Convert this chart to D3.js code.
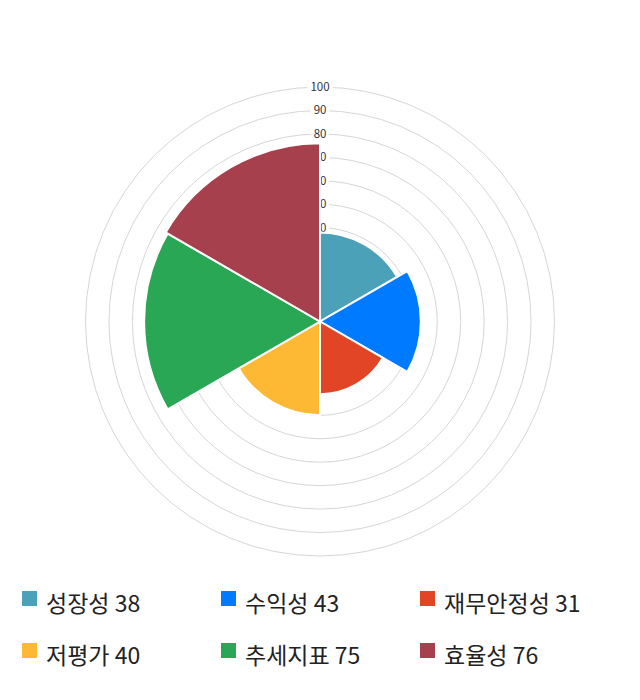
<!DOCTYPE html>
<html>
<head>
<meta charset="utf-8">
<script src="https://cdn.jsdelivr.net/npm/d3@7"></script>
<style>
  body { margin: 0; background: #fff; }
  text { font-family: "Noto Sans CJK KR", "Noto Sans", sans-serif; }
</style>
</head>
<body>
<svg id="chart"></svg>
<script>
const categories = ["성장성", "수익성", "재무안정성", "저평가", "추세지표", "효율성"];
const values = [38, 43, 31, 40, 75, 76];
const colors = ["#4ba1b8", "#007bff", "#e14526", "#fdb933", "#29a755", "#a6404d"];
const ticks = [10, 20, 30, 40, 50, 60, 70, 80, 90, 100];

const width = 640, height = 700;
const cx = 320, cy = 321.5, maxR = 234.5;

const svg = d3.select("#chart").attr("width", width).attr("height", height);

// radial scale: value -> radius
const rScale = d3.scaleLinear().domain([0, 100]).range([0, maxR]);
const angle = d3.scaleBand().domain(categories).range([0, 2 * Math.PI]);

const g = svg.append("g").attr("transform", `translate(${cx}, ${cy})`);

// grid rings
g.selectAll(".ring")
  .data(ticks)
  .join("circle")
  .attr("r", d => rScale(d))
  .attr("fill", "none")
  .attr("stroke", "#d6d6d6")
  .attr("stroke-width", 1);

// tick labels with white backdrop
const tl = g.selectAll(".tick")
  .data(ticks)
  .join("g")
  .attr("transform", d => `translate(0, ${-rScale(d)})`);
tl.append("rect")
  .attr("x", d => -String(d).length * 3.6 - 2)
  .attr("y", -6)
  .attr("width", d => String(d).length * 7.2 + 4)
  .attr("height", 12)
  .attr("fill", "#fff");
tl.append("text")
  .attr("text-anchor", "middle")
  .attr("dy", "0.35em")
  .attr("font-size", 11.5)
  .attr("fill", "#333")
  .text(d => d);

// slices
const arc = d3.arc()
  .innerRadius(0)
  .outerRadius(d => rScale(d.value))
  .startAngle(d => angle(d.name))
  .endAngle(d => angle(d.name) + angle.bandwidth());

const sliceData = categories.map((c, i) => ({ name: c, value: values[i], color: colors[i] }));

g.selectAll(".slice")
  .data(sliceData)
  .join("path")
  .attr("d", arc)
  .attr("fill", d => d.color)
  .attr("stroke", "#fff")
  .attr("stroke-width", 2);

// legend
const legend = svg.append("g");
const item = legend.selectAll(".item")
  .data(sliceData)
  .join("g")
  .attr("transform", (d, i) => `translate(${22 + (i % 3) * 199}, ${591 + Math.floor(i / 3) * 52})`);
item.append("rect")
  .attr("width", 15)
  .attr("height", 15)
  .attr("fill", d => d.color);
item.append("text")
  .attr("x", 24)
  .attr("y", 21)
  .attr("font-size", 23)
  .attr("fill", "#222")
  .text(d => `${d.name} ${d.value}`);
</script>
</body>
</html>
